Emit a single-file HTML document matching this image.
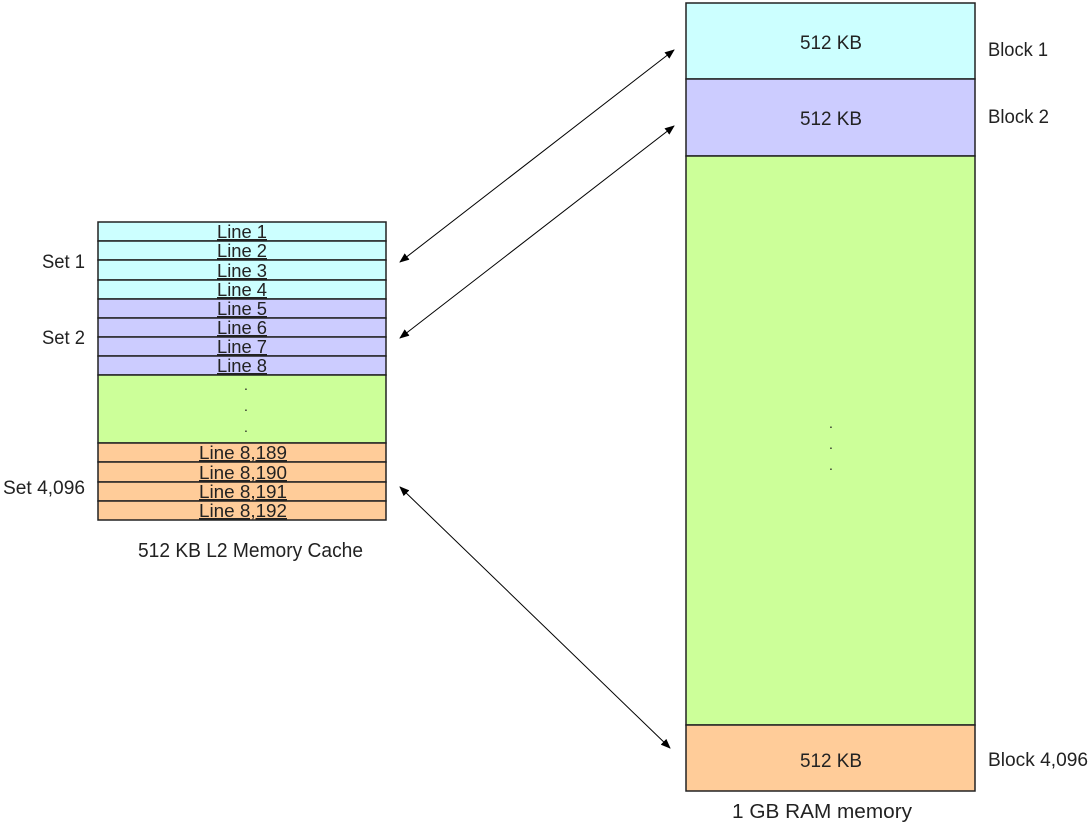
<!DOCTYPE html>
<html><head><style>
body{margin:0;width:1089px;height:822px;background:#fff;position:relative;font-family:"Liberation Sans",sans-serif;overflow:hidden}
</style></head><body>
<svg width="1089" height="822" style="position:absolute;left:0;top:0" font-family="Liberation Sans, sans-serif">
<defs><marker id="a" markerWidth="10" markerHeight="8" refX="9" refY="4" orient="auto-start-reverse" markerUnits="userSpaceOnUse"><path d="M0,0L10,4L0,8z" fill="#000"/></marker></defs>
<g stroke="#222" stroke-width="1.5">
<rect x="98" y="222" width="288" height="19" fill="#ccffff"/>
<rect x="98" y="241" width="288" height="19" fill="#ccffff"/>
<rect x="98" y="260" width="288" height="20" fill="#ccffff"/>
<rect x="98" y="280" width="288" height="19" fill="#ccffff"/>
<rect x="98" y="299" width="288" height="19" fill="#ccccff"/>
<rect x="98" y="318" width="288" height="19" fill="#ccccff"/>
<rect x="98" y="337" width="288" height="19" fill="#ccccff"/>
<rect x="98" y="356" width="288" height="19" fill="#ccccff"/>
<rect x="98" y="375" width="288" height="68" fill="#ccff99"/>
<rect x="98" y="443" width="288" height="19" fill="#ffcc99"/>
<rect x="98" y="462" width="288" height="20" fill="#ffcc99"/>
<rect x="98" y="482" width="288" height="19" fill="#ffcc99"/>
<rect x="98" y="501" width="288" height="19" fill="#ffcc99"/>
<rect x="686" y="3" width="289" height="76" fill="#ccffff"/>
<rect x="686" y="79" width="289" height="77" fill="#ccccff"/>
<rect x="686" y="156" width="289" height="569" fill="#ccff99"/>
<rect x="686" y="725" width="289" height="66" fill="#ffcc99"/>
</g>
<g stroke="#000" stroke-width="1" marker-start="url(#a)" marker-end="url(#a)">
<line x1="400" y1="262" x2="674" y2="50"/>
<line x1="400" y1="338" x2="674" y2="126"/>
<line x1="400" y1="487" x2="670" y2="748"/>
</g>
<g font-size="18" fill="#222" text-decoration="underline" lengthAdjust="spacingAndGlyphs">
<text x="217" y="238" textLength="50" lengthAdjust="spacingAndGlyphs">Line 1</text>
<text x="217" y="257" textLength="50" lengthAdjust="spacingAndGlyphs">Line 2</text>
<text x="217" y="277" textLength="50" lengthAdjust="spacingAndGlyphs">Line 3</text>
<text x="217" y="296" textLength="50" lengthAdjust="spacingAndGlyphs">Line 4</text>
<text x="217" y="315" textLength="50" lengthAdjust="spacingAndGlyphs">Line 5</text>
<text x="217" y="334" textLength="50" lengthAdjust="spacingAndGlyphs">Line 6</text>
<text x="217" y="353" textLength="50" lengthAdjust="spacingAndGlyphs">Line 7</text>
<text x="217" y="372" textLength="50" lengthAdjust="spacingAndGlyphs">Line 8</text>
<text x="199" y="459" textLength="88" lengthAdjust="spacingAndGlyphs">Line 8,189</text>
<text x="199" y="479" textLength="88" lengthAdjust="spacingAndGlyphs">Line 8,190</text>
<text x="199" y="498" textLength="88" lengthAdjust="spacingAndGlyphs">Line 8,191</text>
<text x="199" y="517" textLength="88" lengthAdjust="spacingAndGlyphs">Line 8,192</text>
</g>
<g font-size="14" fill="#222" text-anchor="middle">
<text x="246" y="390">.</text><text x="246" y="411">.</text><text x="246" y="432">.</text>
<text x="831" y="428">.</text><text x="831" y="449">.</text><text x="831" y="470">.</text>
</g>
<g font-size="19" fill="#222">
<text x="800" y="49" textLength="62" lengthAdjust="spacingAndGlyphs">512 KB</text>
<text x="800" y="125" textLength="62" lengthAdjust="spacingAndGlyphs">512 KB</text>
<text x="800" y="767" textLength="62" lengthAdjust="spacingAndGlyphs">512 KB</text>
<text x="42" y="268" textLength="43" lengthAdjust="spacingAndGlyphs">Set 1</text>
<text x="42" y="344" textLength="43" lengthAdjust="spacingAndGlyphs">Set 2</text>
<text x="3" y="494" textLength="82" lengthAdjust="spacingAndGlyphs">Set 4,096</text>
<text x="988" y="56" textLength="60" lengthAdjust="spacingAndGlyphs">Block 1</text>
<text x="988" y="123" textLength="61" lengthAdjust="spacingAndGlyphs">Block 2</text>
<text x="988" y="766" textLength="100" lengthAdjust="spacingAndGlyphs">Block 4,096</text>
</g>
<g font-size="20" fill="#222">
<text x="138" y="557" textLength="225" lengthAdjust="spacingAndGlyphs">512 KB L2 Memory Cache</text>
<text x="732" y="818" textLength="180" lengthAdjust="spacingAndGlyphs">1 GB RAM memory</text>
</g>
</svg>
</body></html>
